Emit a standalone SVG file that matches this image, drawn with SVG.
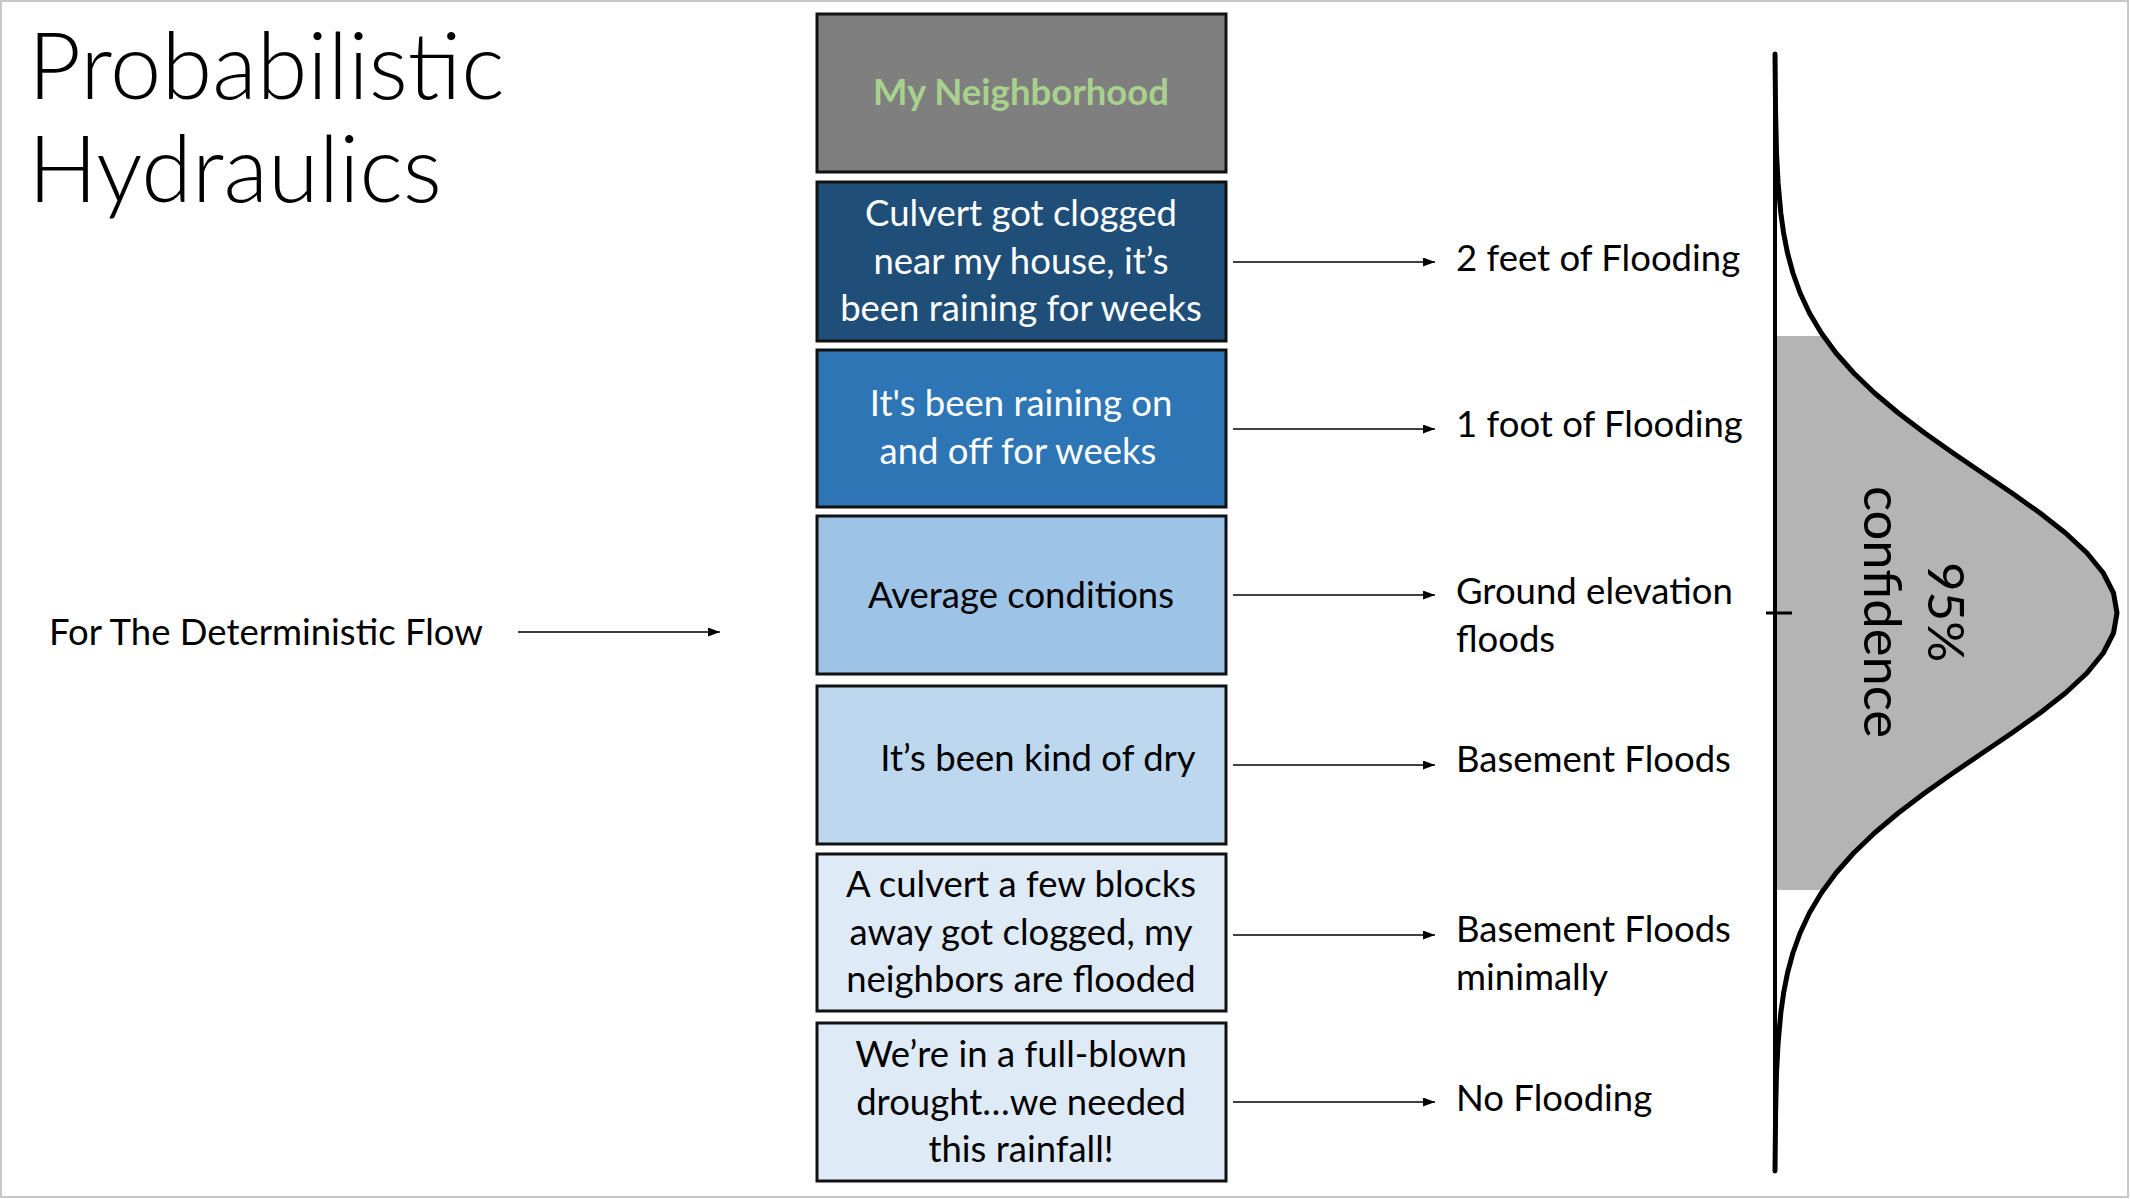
<svg xmlns="http://www.w3.org/2000/svg" width="2130" height="1199" viewBox="0 0 2130 1199">
  <defs>
    <style>
      .t { font-family: Lato, "Liberation Sans", sans-serif; font-size: 36.5px; fill: #000; }
      .c { text-anchor: middle; }
      .w { fill: #fff; }
      .box { stroke: #111; stroke-width: 3; }
      .conn { stroke: #000; stroke-width: 1.5; fill: none; marker-end: url(#arr); }
      .title { font-family: Lato, "Liberation Sans", sans-serif; font-size: 92px; font-weight: 300; fill: #000; }
    </style>
    <marker id="arr" viewBox="0 0 12 9" refX="12" refY="4.5" markerWidth="12" markerHeight="9" markerUnits="userSpaceOnUse" orient="auto">
      <path d="M0,0 L12,4.5 L0,9 Z" fill="#000"/>
    </marker>
  </defs>

  <rect x="0" y="0" width="2130" height="1199" fill="#fff"/>
  <rect x="1" y="1" width="2127" height="1196" fill="none" stroke="#c8c8c8" stroke-width="2"/>

  <!-- title -->
  <g id="title">
    <text class="title" x="28" y="99">Probabilistic</text>
    <text class="title" x="28" y="202">Hydraulics</text>
  </g>

  <g id="deterministic">
    <text class="t" x="49" y="645">For The Deterministic Flow</text>
  </g>

  <!-- scenario stack -->
  <g id="neighborhood">
    <rect class="box" x="817" y="14" width="409" height="158" fill="#7f7f7f"/>
    <text class="t c" x="1021" y="105" style="font-weight:700;fill:#a9d18e">My Neighborhood</text>
  </g>
  <g id="culvert-clogged">
    <rect class="box" x="817" y="182" width="409" height="159" fill="#1f4e79"/>
    <text class="t c w" x="1021" y="226">Culvert got clogged</text>
    <text class="t c w" x="1021" y="274">near my house, it’s</text>
    <text class="t c w" x="1021" y="321">been raining for weeks</text>
  </g>
  <g id="raining-weeks">
    <rect class="box" x="817" y="350" width="409" height="157" fill="#2e75b6"/>
    <text class="t c w" x="1021" y="416">It's been raining on</text>
    <text class="t c w" x="1018" y="464">and off for weeks</text>
  </g>
  <g id="average">
    <rect class="box" x="817" y="516" width="409" height="158" fill="#9dc3e6"/>
    <text class="t c" x="1021" y="608">Average conditions</text>
  </g>
  <g id="kind-of-dry">
    <rect class="box" x="817" y="686" width="409" height="158" fill="#bdd7ee"/>
    <text class="t c" x="1038" y="771">It’s been kind of dry</text>
  </g>
  <g id="culvert-blocks">
    <rect class="box" x="817" y="854" width="409" height="157" fill="#deebf7"/>
    <text class="t c" x="1021" y="897">A culvert a few blocks</text>
    <text class="t c" x="1021" y="945">away got clogged, my</text>
    <text class="t c" x="1021" y="992">neighbors are flooded</text>
  </g>
  <g id="drought">
    <rect class="box" x="817" y="1023" width="409" height="158" fill="#deebf7"/>
    <text class="t c" x="1021" y="1067">We’re in a full-blown</text>
    <text class="t c" x="1021" y="1115">drought…we needed</text>
    <text class="t c" x="1021" y="1162">this rainfall!</text>
  </g>

  <!-- outcomes -->
  <g id="outcomes">
    <text class="t" x="1456" y="271">2 feet of Flooding</text>
    <text class="t" x="1456" y="437">1 foot of Flooding</text>
    <text class="t" x="1456" y="604">Ground elevation</text>
    <text class="t" x="1456" y="652">floods</text>
    <text class="t" x="1456" y="772">Basement Floods</text>
    <text class="t" x="1456" y="942">Basement Floods</text>
    <text class="t" x="1456" y="990">minimally</text>
    <text class="t" x="1456" y="1111">No Flooding</text>
  </g>

  <!-- arrows -->
  <g id="connectors">
    <line class="conn" x1="518" y1="632" x2="720" y2="632"/>
    <line class="conn" x1="1233" y1="262" x2="1435" y2="262"/>
    <line class="conn" x1="1233" y1="429" x2="1435" y2="429"/>
    <line class="conn" x1="1233" y1="595" x2="1435" y2="595"/>
    <line class="conn" x1="1233" y1="765" x2="1435" y2="765"/>
    <line class="conn" x1="1233" y1="935" x2="1435" y2="935"/>
    <line class="conn" x1="1233" y1="1102" x2="1435" y2="1102"/>
  </g>

  <!-- distribution of outcomes -->
  <g id="distribution">
    <path d="M1775,336 L1823,336 L1836,353 L1853.7,373 L1874.5,393 L1898.3,413 L1924.7,433 L1953,453 L1982.4,473 L2011.9,493 L2040,513 L2065.5,533 L2087,553 L2103.3,573 L2113.5,593 L2117,613 L2113.5,633 L2103.3,653 L2087,673 L2065.5,693 L2040,713 L2011.9,733 L1982.4,753 L1953,773 L1924.7,793 L1898.3,813 L1874.5,833 L1853.7,853 L1836,873 L1821,890 L1775,890 Z" fill="#b4b4b4"/>
    <line x1="1775" y1="54" x2="1775" y2="1171" stroke="#000" stroke-width="4" stroke-linecap="round"/>
    <line x1="1766" y1="613" x2="1792" y2="613" stroke="#000" stroke-width="3"/>
    <path d="M1775,54 L1775.6,113 L1776.5,153 L1778.1,183 L1780.8,213 L1783.6,233 L1787.5,253 L1792.9,273 L1800.1,293 L1809.4,313 L1821.3,333 L1836,353 L1853.7,373 L1874.5,393 L1898.3,413 L1924.7,433 L1953,453 L1982.4,473 L2011.9,493 L2040,513 L2065.5,533 L2087,553 L2103.3,573 L2113.5,593 L2117,613 L2113.5,633 L2103.3,653 L2087,673 L2065.5,693 L2040,713 L2011.9,733 L1982.4,753 L1953,773 L1924.7,793 L1898.3,813 L1874.5,833 L1853.7,853 L1836,873 L1821.3,893 L1809.4,913 L1800.1,933 L1792.9,953 L1787.5,973 L1783.6,993 L1780.8,1013 L1778.1,1043 L1776.5,1073 L1775.6,1113 L1775,1171" fill="none" stroke="#000" stroke-width="5" stroke-linejoin="round" stroke-linecap="round"/>
    <text class="t" transform="translate(1928,612) rotate(90)" text-anchor="middle" style="font-size:51px">95%</text>
    <text class="t" transform="translate(1864,612) rotate(90)" text-anchor="middle" style="font-size:52.5px">confidence</text>
  </g>
</svg>
